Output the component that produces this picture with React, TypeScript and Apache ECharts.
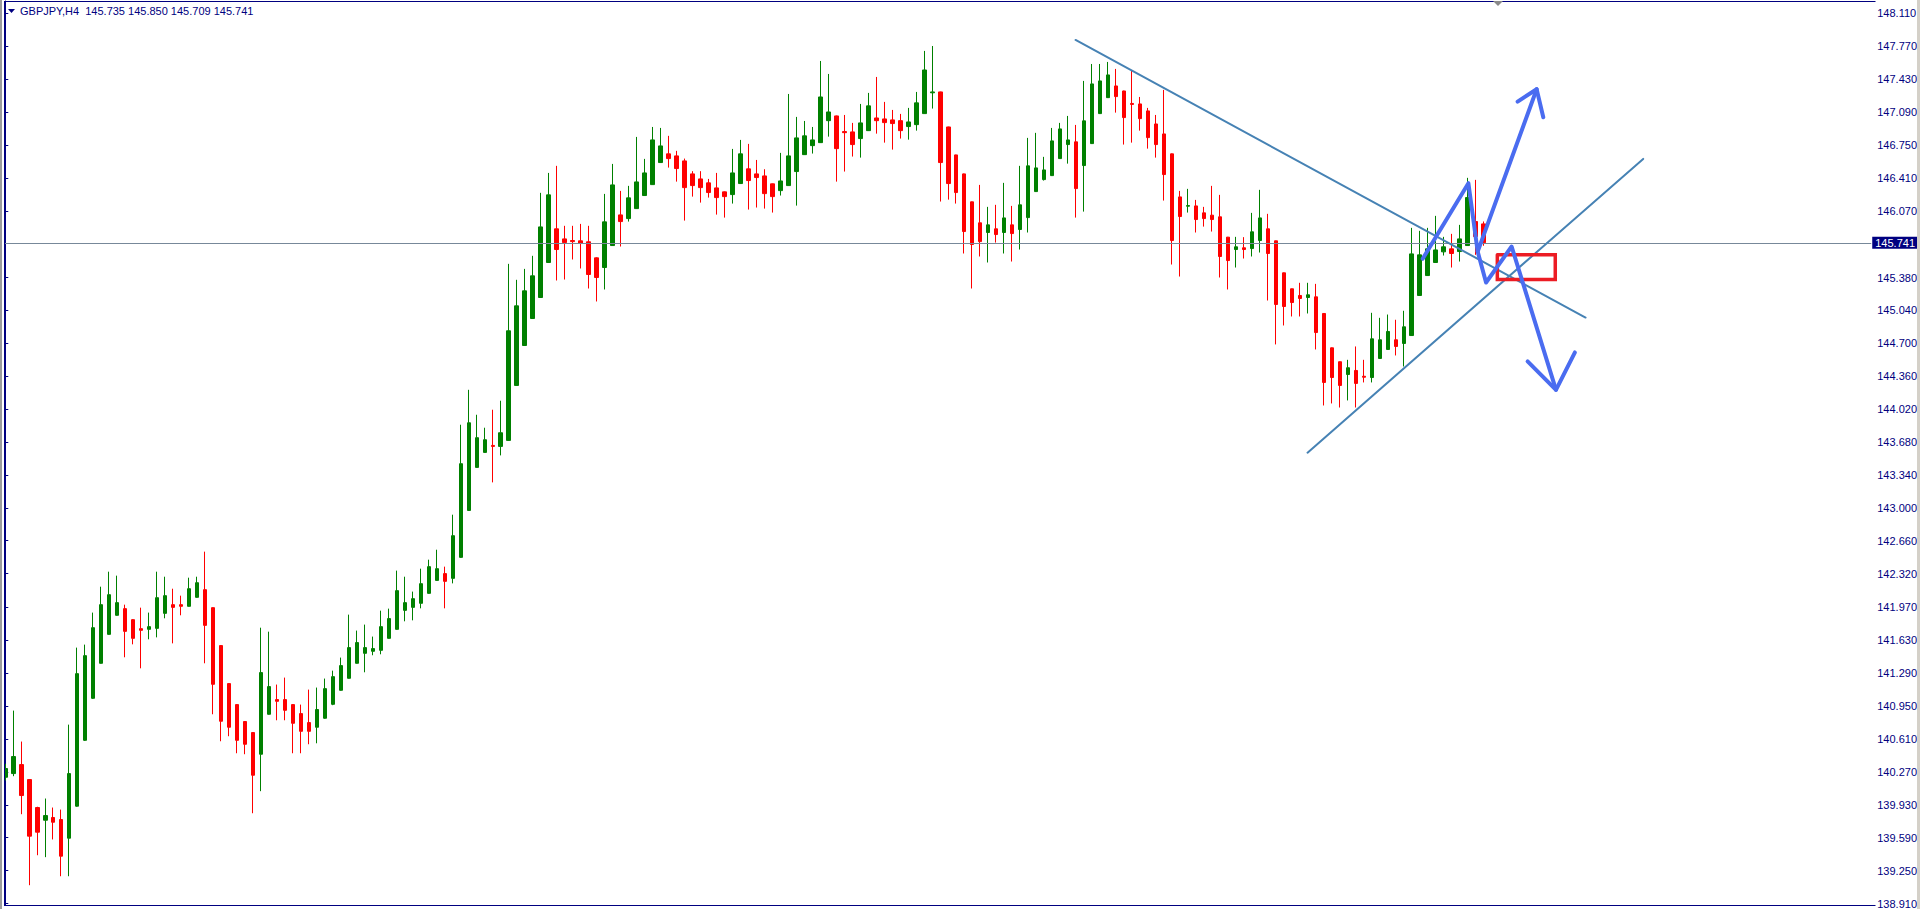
import React, { useEffect, useRef } from 'react';
import * as echarts from 'echarts';

// ---- Data (GBPJPY H4) ----
const OPEN = [
  140.215, 140.253, 140.346, 140.191, 139.902, 139.771, 139.799, 139.778, 139.585, 139.916,
  140.597, 141.031, 141.393, 141.692, 141.889, 141.958, 141.844, 141.751, 141.744, 141.754,
  141.909, 141.999, 141.999, 141.982, 142.075, 142.154, 141.968, 141.576, 141.183, 140.966,
  140.791, 140.677, 140.453, 140.866, 141.018, 141.018, 140.966, 140.873, 140.780, 140.732,
  140.825, 140.969, 141.114, 141.238, 141.393, 141.496, 141.517, 141.527, 141.651, 141.744,
  141.940, 141.971, 142.013, 142.116, 142.250, 142.320, 142.271, 142.488, 142.973, 143.418,
  143.573, 143.645, 143.635, 143.697, 144.265, 144.678, 144.957, 145.174, 145.536, 145.884,
  145.780, 145.763, 145.760, 145.750, 145.584, 145.484, 145.711, 146.028, 145.990, 146.093,
  146.228, 146.341, 146.569, 146.659, 146.638, 146.586, 146.452, 146.400, 146.359, 146.307,
  146.266, 146.238, 146.352, 146.504, 146.452, 146.431, 146.349, 146.279, 146.331, 146.476,
  146.651, 146.744, 146.775, 147.002, 147.051, 146.889, 146.886, 146.817, 146.899, 147.030,
  147.020, 147.010, 147.002, 146.941, 146.961, 147.075, 147.290, 147.299, 146.937, 146.648,
  146.452, 146.163, 145.946, 145.846, 145.884, 145.846, 145.925, 145.877, 146.000, 146.269,
  146.393, 146.434, 146.610, 146.755, 146.783, 146.538, 146.765, 147.075, 147.240, 147.361,
  147.309, 147.180, 147.175, 147.103, 146.968, 146.865, 146.659, 146.214, 146.118, 146.121,
  146.049, 146.025, 146.008, 145.798, 145.670, 145.688, 145.680, 145.763, 145.884, 145.760,
  145.429, 145.264, 145.195, 145.174, 145.181, 145.009, 144.654, 144.510, 144.378, 144.420,
  144.360, 144.347, 144.544, 144.637, 144.737, 144.699, 144.781, 145.195, 145.401, 145.536,
  145.646, 145.677, 145.649, 145.711, 145.959, 145.935,
];
const CLOSE = [
  140.305, 140.429, 140.026, 139.606, 139.647, 139.819, 139.750, 139.399, 140.253, 141.286,
  141.472, 141.761, 141.999, 142.102, 142.020, 141.723, 141.651, 141.734, 141.772, 142.071,
  142.092, 141.971, 141.982, 142.164, 142.226, 141.785, 141.176, 140.794, 140.732, 140.597,
  140.556, 140.236, 141.297, 141.152, 141.000, 140.907, 140.773, 140.690, 140.690, 140.915,
  141.131, 141.255, 141.369, 141.555, 141.607, 141.555, 141.545, 141.772, 141.855, 142.144,
  142.020, 142.061, 142.216, 142.392, 142.371, 142.240, 142.712, 143.456, 143.879, 143.725,
  143.704, 143.635, 143.776, 144.830, 145.088, 145.243, 145.398, 145.904, 146.235, 145.670,
  145.742, 145.752, 145.732, 145.412, 145.381, 145.956, 146.338, 145.959, 146.204, 146.369,
  146.462, 146.803, 146.741, 146.610, 146.507, 146.310, 146.331, 146.310, 146.259, 146.207,
  146.217, 146.462, 146.659, 146.383, 146.414, 146.248, 146.217, 146.379, 146.638, 146.824,
  146.845, 146.803, 147.247, 147.092, 146.713, 146.878, 146.755, 146.979, 147.155, 147.002,
  146.982, 146.972, 146.899, 146.989, 147.186, 147.526, 147.299, 146.569, 146.352, 146.259,
  145.856, 145.722, 145.752, 145.925, 145.825, 145.997, 145.835, 146.132, 146.535, 146.514,
  146.493, 146.793, 146.917, 146.803, 146.300, 147.000, 147.382, 147.413, 147.475, 147.251,
  147.034, 147.170, 147.023, 146.827, 146.755, 146.445, 145.763, 146.011, 146.124, 145.980,
  145.990, 145.980, 145.598, 145.556, 145.698, 145.670, 145.853, 145.997, 145.629, 145.102,
  145.081, 145.122, 145.164, 145.202, 144.812, 144.296, 144.347, 144.265, 144.448, 144.286,
  144.350, 144.747, 144.737, 144.823, 144.668, 144.871, 145.625, 145.615, 145.677, 145.666,
  145.698, 145.629, 145.780, 146.207, 145.804, 145.741,
];
const LOW = [
  140.181, 140.226, 139.833, 139.099, 139.409, 139.389, 139.572, 139.192, 139.192, 139.910,
  140.590, 141.025, 141.390, 141.688, 141.885, 141.455, 141.589, 141.341, 141.641, 141.661,
  141.858, 141.599, 141.889, 141.980, 142.070, 141.393, 140.866, 140.587, 140.639, 140.463,
  140.453, 139.843, 140.071, 140.862, 140.804, 140.804, 140.463, 140.463, 140.556, 140.566,
  140.820, 140.960, 141.110, 141.235, 141.390, 141.300, 141.476, 141.486, 141.648, 141.740,
  141.827, 141.837, 141.961, 142.112, 142.247, 141.961, 142.219, 142.484, 142.970, 143.414,
  143.570, 143.263, 143.542, 143.693, 144.262, 144.675, 144.954, 145.170, 145.532, 145.350,
  145.360, 145.567, 145.474, 145.267, 145.133, 145.257, 145.708, 145.701, 145.959, 146.090,
  146.225, 146.338, 146.566, 146.517, 146.372, 145.969, 146.217, 146.155, 146.207, 146.031,
  146.000, 146.145, 146.348, 146.083, 146.104, 146.093, 146.052, 146.228, 146.328, 146.124,
  146.648, 146.662, 146.772, 146.837, 146.372, 146.476, 146.631, 146.620, 146.895, 146.868,
  146.775, 146.703, 146.817, 146.806, 146.899, 147.072, 147.127, 146.166, 146.186, 146.145,
  145.629, 145.267, 145.598, 145.536, 145.742, 145.629, 145.546, 145.670, 145.846, 146.265,
  146.383, 146.430, 146.607, 146.558, 146.000, 146.062, 146.762, 147.072, 147.237, 147.085,
  146.755, 146.775, 146.899, 146.713, 146.620, 146.176, 145.515, 145.391, 146.052, 145.846,
  145.907, 145.856, 145.381, 145.257, 145.484, 145.577, 145.598, 145.639, 145.143, 144.689,
  144.885, 144.978, 144.978, 145.009, 144.637, 144.058, 144.079, 144.037, 144.110, 144.037,
  144.296, 144.296, 144.540, 144.633, 144.575, 144.461, 144.778, 145.192, 145.398, 145.532,
  145.608, 145.484, 145.546, 145.708, 145.615, 145.709,
];
const HIGH = [
  140.354, 140.904, 140.584, 140.195, 139.910, 139.995, 139.902, 139.881, 140.759, 141.555,
  141.586, 141.917, 142.185, 142.340, 142.299, 141.999, 141.850, 141.968, 141.917, 142.340,
  142.288, 142.164, 142.092, 142.278, 142.288, 142.547, 141.970, 141.580, 141.186, 140.970,
  140.795, 140.680, 141.761, 141.720, 141.173, 141.245, 140.970, 140.966, 141.121, 141.142,
  141.235, 141.317, 141.452, 141.896, 141.731, 141.793, 141.669, 141.937, 141.958, 142.351,
  142.288, 142.134, 142.371, 142.464, 142.567, 142.392, 142.929, 143.859, 144.220, 143.962,
  143.828, 144.014, 144.107, 145.522, 145.357, 145.470, 145.605, 146.256, 146.462, 146.535,
  145.915, 145.915, 145.935, 145.915, 145.590, 146.245, 146.555, 146.276, 146.328, 146.834,
  146.607, 146.937, 146.927, 146.845, 146.690, 146.610, 146.480, 146.480, 146.400, 146.462,
  146.270, 146.710, 146.803, 146.762, 146.596, 146.500, 146.352, 146.669, 147.278, 147.041,
  146.999, 146.937, 147.619, 147.485, 147.055, 147.061, 146.979, 147.175, 147.289, 147.454,
  147.196, 147.113, 147.072, 147.134, 147.299, 147.723, 147.774, 147.302, 146.940, 146.650,
  146.455, 146.165, 146.338, 146.111, 146.132, 146.359, 146.121, 146.535, 146.824, 146.876,
  146.628, 146.927, 146.979, 147.051, 146.958, 147.413, 147.588, 147.588, 147.609, 147.537,
  147.312, 147.516, 147.247, 147.134, 147.061, 147.320, 146.662, 146.276, 146.297, 146.183,
  146.111, 146.328, 146.235, 145.800, 145.801, 145.798, 146.049, 146.287, 146.039, 145.762,
  145.432, 145.266, 145.326, 145.326, 145.315, 145.012, 144.657, 144.512, 144.530, 144.668,
  144.530, 145.016, 144.964, 144.998, 144.944, 145.037, 145.894, 145.863, 145.894, 146.018,
  145.801, 145.832, 145.925, 146.411, 146.390, 145.960,
];

const TOTAL_SLOTS = 234;
const PRICE_TICKS = [
  148.11, 147.77, 147.43, 147.09, 146.75, 146.41, 146.07, 145.38, 145.04, 144.7, 144.36,
  144.02, 143.68, 143.34, 143.0, 142.66, 142.32, 141.97, 141.63, 141.29, 140.95, 140.61,
  140.27, 139.93, 139.59, 139.25, 138.91,
];
const CURRENT_PRICE = 145.741;
const HEADER = 'GBPJPY,H4  145.735 145.850 145.709 145.741';

// hand-drawn analysis objects, [bar index, price]
const DESC_TREND = [[133.93, 147.836], [197.75, 144.967]];
const ASC_TREND = [[162.96, 143.57], [204.96, 146.607]];
const ZIGZAG_UP = [[177.37, 145.574], [183.09, 146.356], [184.25, 145.649], [191.63, 147.327]];
const UP_HEAD = [[189.25, 147.199], [191.63, 147.327], [192.46, 147.038]];
const ZIGZAG_DOWN = [[184.25, 145.649], [185.3, 145.329], [188.5, 145.701], [194.05, 144.22]];
const DOWN_HEAD = [[190.5, 144.513], [194.05, 144.22], [196.42, 144.606]];
const RED_BOX = [
  [186.71, 145.615], [193.96, 145.615], [193.96, 145.36], [186.71, 145.36], [186.71, 145.615],
];

const FONT = "'Liberation Sans Narrow', 'Liberation Sans', Tahoma, sans-serif";
const NAVY = '#000080';

function overlay(data: number[][], color: string, width: number, join = 'round') {
  return {
    type: 'line',
    xAxisIndex: 1,
    yAxisIndex: 0,
    data,
    symbol: 'none',
    silent: true,
    z: 10,
    lineStyle: { color, width, cap: 'round', join },
  };
}

export default function App() {
  const ref = useRef<HTMLDivElement>(null);
  useEffect(() => {
    document.body.style.margin = '0';
    const chart = echarts.init(ref.current as HTMLDivElement, null, { renderer: 'svg' });
    const categories = Array.from({ length: TOTAL_SLOTS }, (_, i) => String(i));
    const candles = OPEN.map((o, i) => [o, CLOSE[i], LOW[i], HIGH[i]]);
    const option: any = {
      animation: false,
      backgroundColor: '#ffffff',
      grid: { left: 1.3, right: 45, top: 1, bottom: 3.5, show: false },
      xAxis: [
        { type: 'category', data: categories, show: false, boundaryGap: true },
        { type: 'value', min: -0.5, max: TOTAL_SLOTS - 0.5, show: false },
      ],
      yAxis: {
        type: 'value',
        position: 'right',
        min: 138.894,
        max: 148.239,
        splitLine: { show: false },
        axisLine: { show: true, lineStyle: { color: NAVY, width: 1 } },
        axisTick: { show: true, length: 3, customValues: PRICE_TICKS, lineStyle: { color: NAVY } },
        axisLabel: {
          customValues: PRICE_TICKS,
          formatter: (v: number) => v.toFixed(3),
          color: NAVY,
          fontFamily: FONT,
          fontSize: 11,
          margin: 6,
        },
      },
      series: [
        {
          type: 'candlestick',
          xAxisIndex: 0,
          yAxisIndex: 0,
          data: candles,
          barWidth: 4,
          itemStyle: {
            color: '#008000',
            color0: '#ff0000',
            borderColor: '#008000',
            borderColor0: '#ff0000',
            borderWidth: 1,
          },
          markLine: {
            silent: true,
            symbol: ['none', 'none'],
            data: [{ yAxis: CURRENT_PRICE }],
            lineStyle: { color: '#778899', width: 1, type: 'solid' },
            label: {
              show: true,
              position: 'end',
              distance: 1,
              formatter: CURRENT_PRICE.toFixed(3),
              backgroundColor: NAVY,
              color: '#ffffff',
              fontFamily: FONT,
              fontSize: 11,
              lineHeight: 12,
              padding: [0, 3, 0, 3],
            },
          },
        },
        overlay(DESC_TREND, '#4682b4', 2),
        overlay(ASC_TREND, '#4682b4', 2),
        overlay(RED_BOX, '#ec1c24', 3.5, 'miter'),
        overlay(ZIGZAG_UP, '#4a6cf0', 4),
        overlay(UP_HEAD, '#4a6cf0', 4),
        overlay(ZIGZAG_DOWN, '#4a6cf0', 4),
        overlay(DOWN_HEAD, '#4a6cf0', 4),
      ],
      graphic: [
        { type: 'rect', z: 100, shape: { x: 0, y: 0, width: 4, height: 909 }, style: { fill: '#ffffff' } },
        { type: 'rect', z: 101, shape: { x: 0, y: 0, width: 2, height: 909 }, style: { fill: '#9c9c9c' } },
        { type: 'rect', z: 101, shape: { x: 1917, y: 0, width: 3, height: 909 }, style: { fill: '#d4d0c8' } },
        { type: 'line', z: 101, shape: { x1: 4.5, y1: 1, x2: 4.5, y2: 906 }, style: { stroke: NAVY, lineWidth: 1 } },
        { type: 'line', z: 101, shape: { x1: 4, y1: 1.5, x2: 1875.5, y2: 1.5 }, style: { stroke: NAVY, lineWidth: 1 } },
        { type: 'line', z: 101, shape: { x1: 4, y1: 905.5, x2: 1875.5, y2: 905.5 }, style: { stroke: NAVY, lineWidth: 1 } },
        { type: 'polygon', z: 101, shape: { points: [[8, 9], [15, 9], [11.5, 13]] }, style: { fill: NAVY } },
        { type: 'polygon', z: 102, shape: { points: [[1493, 1], [1503, 1], [1498, 6]] }, style: { fill: '#8a8a8a' } },
        {
          type: 'text',
          z: 101,
          x: 20,
          y: 11,
          style: { text: HEADER, fill: NAVY, font: `11px ${FONT}`, textAlign: 'left', textVerticalAlign: 'middle' },
        },
      ],
    };
    chart.setOption(option);
    return () => chart.dispose();
  }, []);
  return (
    <div
      ref={ref}
      style={{ position: 'fixed', left: 0, top: 0, width: 1920, height: 909, background: '#ffffff' }}
    />
  );
}
